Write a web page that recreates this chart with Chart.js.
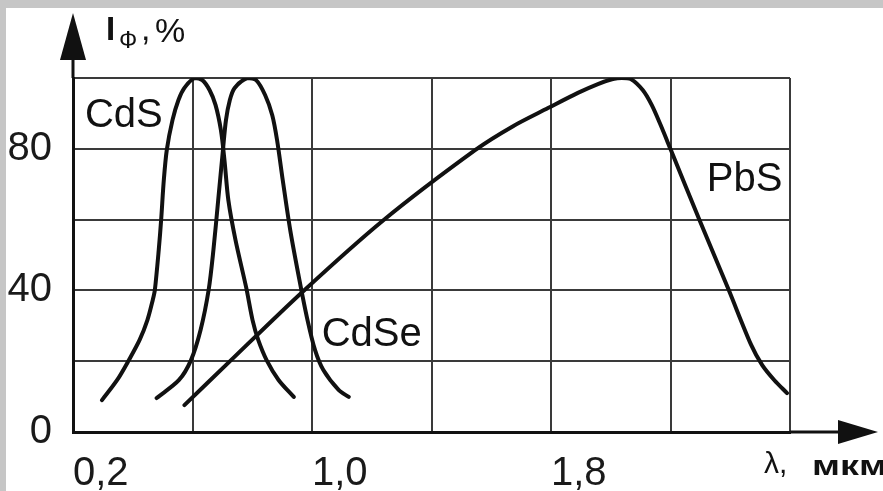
<!DOCTYPE html>
<html>
<head>
<meta charset="utf-8">
<script src="https://cdn.jsdelivr.net/npm/chart.js@4.4.1/dist/chart.umd.min.js"></script>
<style>
  html, body { margin: 0; padding: 0; }
  body { width: 883px; height: 491px; background: #c6c6c6; overflow: hidden; }
  #wrap { position: absolute; left: 6px; top: 8px; width: 877px; height: 483px; background: #fff; }
</style>
</head>
<body>
<div id="wrap"><canvas id="spectra"></canvas></div>
<script>
// wavelength, um / photocurrent, %
const cdsX = [0.297, 0.348, 0.387, 0.423, 0.449, 0.467, 0.474, 0.487, 0.495, 0.504, 0.514, 0.533, 0.553, 0.573, 0.607,
              0.633, 0.657, 0.677, 0.695, 0.707, 0.72, 0.744, 0.78, 0.801, 0.82, 0.848, 0.888, 0.939];
const cdsY = [9.0, 14.7, 20.3, 26.0, 31.6, 37.3, 40.1, 51.4, 59.9, 71.2, 79.7, 88.1, 93.8, 97.2, 100,
              99.4, 96.6, 92.4, 85.3, 76.8, 65.5, 54.2, 40.7, 31.6, 26.0, 20.3, 14.7, 9.9];

const cdseX = [0.48, 0.555, 0.595, 0.627, 0.654, 0.67, 0.686, 0.702, 0.712, 0.725, 0.741, 0.783,
               0.813, 0.843, 0.867, 0.883, 0.902, 0.927, 0.958, 0.985, 1.01, 1.038, 1.089, 1.123];
const cdseY = [9.6, 14.7, 20.3, 28.8, 40.1, 51.4, 65.5, 79.7, 88.1, 93.8, 97.2, 100,
               99.4, 95.2, 89.5, 82.5, 71.2, 57.1, 42.9, 31.6, 23.2, 17.5, 11.9, 9.9];

const pbsX = [0.573, 0.723, 0.967, 1.24, 1.547, 1.673, 1.79, 1.89, 1.957, 2.007, 2.037, 2.067,
              2.107, 2.137, 2.167, 2.201, 2.297, 2.395, 2.47, 2.507, 2.547, 2.59];
const pbsY = [7.6, 19.8, 39.5, 59.9, 79.7, 86.4, 91.5, 95.8, 98.3, 99.7, 100, 99.7,
              96.6, 92.4, 86.7, 79.7, 59.9, 40.1, 24.6, 18.9, 14.7, 11.0];

const xTicks = [0.2, 0.6, 1.0, 1.4, 1.8, 2.2, 2.6];
const xTickLabels = ['0,2', '', '1,0', '', '1,8', '', ''];
const yTicks = [0, 20, 40, 60, 80, 100];
const yTickLabels = ['0', '', '40', '', '80', ''];

const seriesNames = ['CdS', 'CdSe', 'PbS'];

const FONT = "'Liberation Sans', Arial, sans-serif";
const INK = '#111';

function points(xs, ys) {
    return xs.map((x, i) => ({ x: x, y: ys[i] }));
}

// where each curve name sits, in data units
const nameSpots = [[0.37, 89.8], [1.2, 28.1], [2.448, 71.8]];

const decorations = {
    id: 'decorations',
    afterDraw(chart) {
        const { ctx, chartArea: a, scales } = chart;
        ctx.save();
        ctx.strokeStyle = INK;
        ctx.fillStyle = INK;
        ctx.lineWidth = 3;

        // y axis arrow
        ctx.beginPath();
        ctx.moveTo(a.left, a.top);
        ctx.lineTo(a.left, a.top - 30);
        ctx.stroke();
        ctx.beginPath();
        ctx.moveTo(a.left, a.top - 65);
        ctx.lineTo(a.left - 13, a.top - 18);
        ctx.lineTo(a.left + 13, a.top - 18);
        ctx.closePath();
        ctx.fill();

        // x axis arrow
        ctx.beginPath();
        ctx.moveTo(a.right, a.bottom);
        ctx.lineTo(a.right + 60, a.bottom);
        ctx.stroke();
        ctx.beginPath();
        ctx.moveTo(a.right + 88, a.bottom);
        ctx.lineTo(a.right + 48, a.bottom - 12);
        ctx.lineTo(a.right + 48, a.bottom + 12);
        ctx.closePath();
        ctx.fill();

        // axis titles
        ctx.textBaseline = 'alphabetic';
        ctx.textAlign = 'left';
        ctx.font = 'bold 33px ' + FONT;
        ctx.fillText('I', a.left + 33, a.top - 38);
        ctx.font = '24px ' + FONT;
        ctx.fillText('Ф', a.left + 46, a.top - 30);
        ctx.font = '34px ' + FONT;
        ctx.fillText(',', a.left + 68, a.top - 38);
        ctx.fillText('%', a.left + 82, a.top - 36);

        ctx.font = '30px ' + FONT;
        ctx.fillText('λ,', a.right - 26, a.bottom + 41);
        ctx.save();
        ctx.translate(a.right + 22, a.bottom + 43);
        ctx.scale(1.4, 1);
        ctx.font = 'bold 27px ' + FONT;
        ctx.fillText('мкм', 0, 0);
        ctx.restore();

        // curve names
        ctx.font = '40px ' + FONT;
        ctx.textAlign = 'center';
        ctx.textBaseline = 'middle';
        seriesNames.forEach((name, i) => {
            const px = scales.x.getPixelForValue(nameSpots[i][0]);
            const py = scales.y.getPixelForValue(nameSpots[i][1]);
            ctx.fillText(name, px, py + 2);
        });
        ctx.restore();
    }
};

const lineStyle = {
    borderColor: INK,
    borderWidth: 4,
    pointRadius: 0,
    fill: false,
    tension: 0.3,
    borderCapStyle: 'round',
    borderJoinStyle: 'round'
};

new Chart(document.getElementById('spectra'), {
    type: 'line',
    data: {
        datasets: [
            Object.assign({ label: seriesNames[0], data: points(cdsX, cdsY) }, lineStyle),
            Object.assign({ label: seriesNames[1], data: points(cdseX, cdseY) }, lineStyle),
            Object.assign({ label: seriesNames[2], data: points(pbsX, pbsY) }, lineStyle)
        ]
    },
    options: {
        responsive: true,
        maintainAspectRatio: false,
        animation: false,
        events: [],
        layout: { padding: { left: 0, right: 93, top: 70, bottom: 0 } },
        plugins: { legend: { display: false }, tooltip: { enabled: false } },
        scales: {
            x: {
                type: 'linear',
                min: 0.2,
                max: 2.6,
                afterBuildTicks: (s) => { s.ticks = xTicks.map(v => ({ value: v })); },
                afterFit: (s) => { s.height = 59; },
                grid: { color: '#3a3a3a', lineWidth: 2, drawTicks: false },
                border: { color: INK, width: 3 },
                ticks: {
                    align: 'start',
                    padding: 18,
                    color: '#1a1a1a',
                    font: { family: FONT, size: 40 },
                    maxRotation: 0,
                    autoSkip: false,
                    callback: (v, i) => xTickLabels[i]
                }
            },
            y: {
                min: 0,
                max: 100,
                afterBuildTicks: (s) => { s.ticks = yTicks.map(v => ({ value: v })); },
                afterFit: (s) => { s.width = 67; },
                grid: { color: '#3a3a3a', lineWidth: 2, drawTicks: false },
                border: { color: INK, width: 3 },
                ticks: {
                    padding: 21,
                    color: '#1a1a1a',
                    font: { family: FONT, size: 40 },
                    autoSkip: false,
                    callback: (v, i) => yTickLabels[i]
                }
            }
        }
    },
    plugins: [decorations]
});
</script>
</body>
</html>
